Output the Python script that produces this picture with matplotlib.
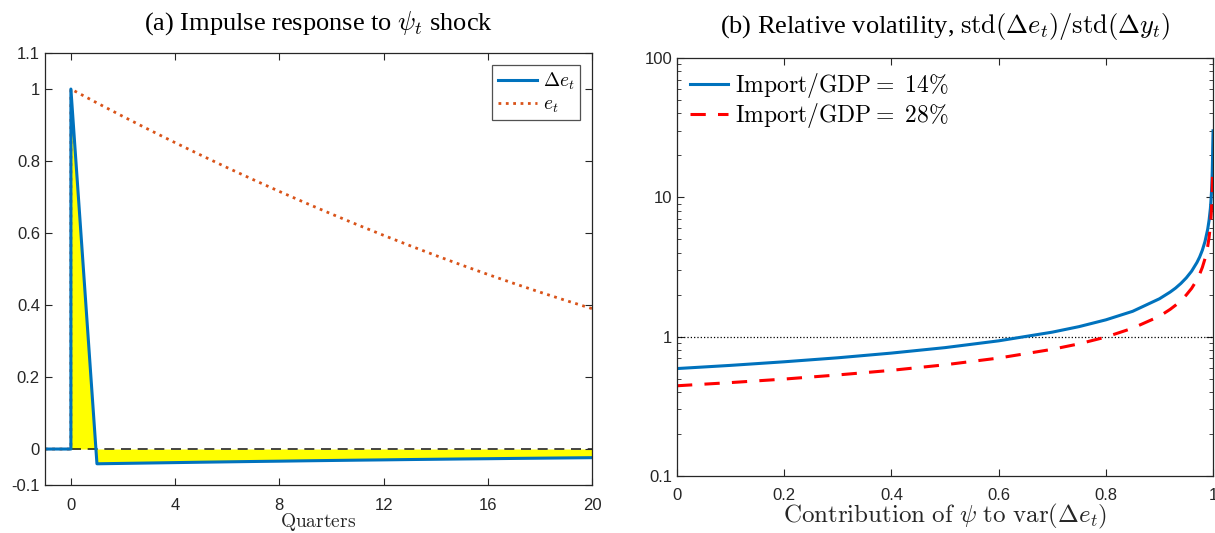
import numpy as np
import matplotlib
matplotlib.use("Agg")
import matplotlib.pyplot as plt
from matplotlib.ticker import NullFormatter

plt.rcParams['mathtext.fontset'] = 'cm'
plt.rcParams['font.family'] = ['Liberation Sans', 'DejaVu Sans']

# panel (a): impulse response, quarters -1..20 (0 listed twice for the jump)
quarters = [-1, 0, 0, 1, 2, 3, 4, 5, 6, 7, 8, 9, 10, 11, 12, 13, 14, 15, 16, 17, 18, 19, 20]
de_t = [0, 0, 1, -0.041, -0.0399, -0.0388, -0.0377, -0.0366, -0.0356, -0.0346, -0.0337,
        -0.0327, -0.0318, -0.0309, -0.0301, -0.0292, -0.0284, -0.0276, -0.0269,
        -0.0261, -0.0254, -0.0247, -0.0240]
e_t = [0, 0, 1, 0.9615, 0.9238, 0.887, 0.851, 0.8159, 0.7816, 0.7482, 0.7156, 0.6838,
       0.6529, 0.6228, 0.5936, 0.5652, 0.5376, 0.5109, 0.485, 0.46, 0.4358, 0.4125, 0.39]

# panel (b): relative volatility vs contribution of psi
share = [0, 0.1, 0.2, 0.3, 0.4, 0.5, 0.6, 0.7, 0.75, 0.8, 0.85, 0.9, 0.92, 0.93, 0.94,
         0.95, 0.96, 0.97, 0.975, 0.98, 0.985, 0.99, 0.9925, 0.995, 0.996, 0.997,
         0.998, 0.9985, 0.999, 0.9993, 1.0]
vol_14 = [0.59, 0.622, 0.660, 0.705, 0.762, 0.834, 0.933, 1.077, 1.18, 1.32, 1.52,
          1.87, 2.09, 2.23, 2.41, 2.64, 2.95, 3.41, 3.73, 4.17, 4.82, 5.9, 6.81, 8.3,
          9.33, 10.8, 13.2, 15.2, 18.7, 22.3, 30]
vol_28 = [0.444, 0.468, 0.496, 0.531, 0.573, 0.628, 0.702, 0.811, 0.888, 0.993, 1.15,
          1.40, 1.57, 1.68, 1.81, 1.99, 2.22, 2.56, 2.81, 3.14, 3.63, 4.44, 5.13, 6.28,
          7.02, 8.1, 9.9, 11.5, 14.0, 15.0, 15.9]

blue = '#0072BD'
orange = '#D95319'
axcol = '#262626'
serif = ['Liberation Serif', 'DejaVu Serif']

fig = plt.figure(figsize=(12.15, 5.33), dpi=100)

def style_axes(ax):
    for s in ax.spines.values():
        s.set_color(axcol)
        s.set_linewidth(0.9)
    ax.tick_params(which='both', direction='in', top=True, right=True,
                   colors=axcol, labelsize=12, labelcolor=axcol)
    ax.tick_params(which='major', length=5)
    ax.tick_params(which='minor', length=3)
    ax.tick_params(axis='x', pad=9)

# ---- left panel
ax1 = fig.add_axes([0.0369, 0.090, 0.4504, 0.8105])
t = np.array(quarters)
de = np.array(de_t)
ax1.fill_between(t[2:], de[2:], 0, color='#FFFF00', linewidth=0)
ax1.plot([0, 20], [0, 0], '--', color=axcol, lw=1.2, dashes=(6, 4))
ax1.plot(t, e_t, ':', color=orange, lw=2.0, label=r'$e_t$')
ax1.plot(t, de, '-', color=blue, lw=2.2, label=r'$\Delta e_t$')
ax1.set_xlim(-1, 20)
ax1.set_ylim(-0.1, 1.1)
ax1.set_xticks([0, 4, 8, 12, 16, 20])
ax1.set_yticks([-0.1, 0, 0.2, 0.4, 0.6, 0.8, 1, 1.1])
ax1.set_yticklabels(['-0.1', '0', '0.2', '0.4', '0.6', '0.8', '1', '1.1'])
style_axes(ax1)
ax1.set_xlabel(r'$\mathrm{Quarters}$', fontsize=14, color=axcol, labelpad=-1)
ax1.set_title(r'(a) Impulse response to $\psi_t$ shock', fontsize=19,
              family=serif, pad=17)
h, l = ax1.get_legend_handles_labels()
leg = ax1.legend(h[::-1], l[::-1], loc='upper right', fontsize=14, handlelength=2.0,
                 fancybox=False, borderpad=0.3, labelspacing=0.2, handletextpad=0.3,
                 borderaxespad=0.6)
leg.get_frame().set_edgecolor(axcol)
leg.get_frame().set_linewidth(0.9)

# ---- right panel
ax2 = fig.add_axes([0.5572, 0.107, 0.4412, 0.7842])
ax2.plot([0, 1], [1, 1], ':', color='k', lw=0.9)
ax2.plot(share, vol_14, '-', color=blue, lw=2.2, label=r'$\mathrm{Import/GDP}{=}\ 14\%$')
ax2.plot(share, vol_28, '--', color='#FF0000', lw=2.2, dashes=(5, 4),
         label=r'$\mathrm{Import/GDP}{=}\ 28\%$')
ax2.set_yscale('log')
ax2.set_xlim(0, 1)
ax2.set_ylim(0.1, 100)
ax2.set_xticks([0, 0.2, 0.4, 0.6, 0.8, 1])
ax2.set_xticklabels(['0', '0.2', '0.4', '0.6', '0.8', '1'])
ax2.set_yticks([0.1, 1, 10, 100])
ax2.set_yticklabels(['0.1', '1', '10', '100'])
ax2.yaxis.set_minor_formatter(NullFormatter())
style_axes(ax2)
ax2.set_xlabel(r'$\mathrm{Contribution\ of\ }\psi\mathrm{\ to\ var}(\Delta e_t)$',
               fontsize=18, color=axcol, labelpad=-1)
ax2.set_title(r'(b) Relative volatility, $\mathrm{std}(\Delta e_t)/\mathrm{std}(\Delta y_t)$',
              fontsize=19, family=serif, pad=18)
ax2.legend(loc='upper left', fontsize=17, frameon=False, handlelength=1.6,
           borderpad=0.2, labelspacing=0.05, handletextpad=0.3, borderaxespad=0.35)

fig.savefig('out.png', dpi=100)
